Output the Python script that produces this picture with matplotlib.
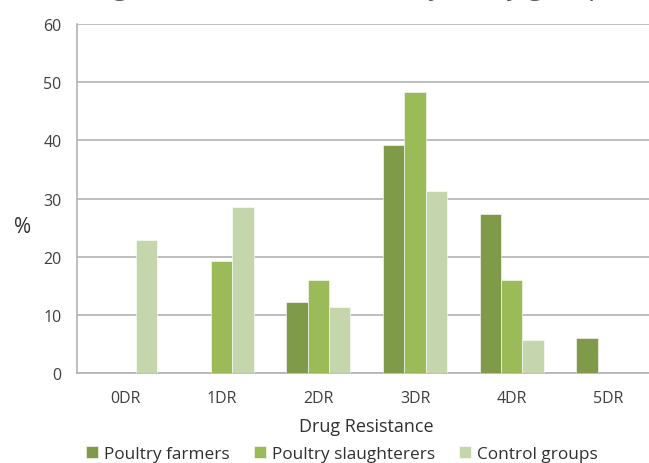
import numpy as np
import matplotlib
matplotlib.use("Agg")
import matplotlib.pyplot as plt

plt.rcParams['font.family'] = ['Open Sans', 'DejaVu Sans']

categories = ["0DR", "1DR", "2DR", "3DR", "4DR", "5DR"]
farmers = [0, 0, 12.2, 39.3, 27.3, 6.0]
slaughterers = [0, 19.3, 16.1, 48.3, 16.1, 0]
controls = [22.9, 28.6, 11.4, 31.4, 5.7, 0]
series_names = ["Poultry farmers", "Poultry slaughterers", "Control groups"]
colors = ["#7F9A48", "#9BBB59", "#C6D6AC"]

fig = plt.figure(figsize=(6.49, 4.64), dpi=100)
ax = fig.add_axes([0.1182, 0.1933, 0.8937, 0.7528])

x = np.arange(len(categories))
w = 0.22
for i, (vals, name, c) in enumerate(zip([farmers, slaughterers, controls], series_names, colors)):
    ax.bar(x + (i - 1) * w, vals, w, color=c, label=name, edgecolor="white", linewidth=0.4, zorder=3)

ax.set_xlim(-0.5, 5.5)
ax.set_ylim(0, 60)
ax.set_yticks(range(0, 61, 10))
ax.set_xticks(x)
ax.set_xticklabels(categories)
ax.grid(axis="y", color="#B3B3B3", linewidth=1.2, zorder=0)
ax.tick_params(axis="both", length=0, labelsize=11.5, labelcolor="#404040")
ax.tick_params(axis="x", pad=12)
ax.tick_params(axis="y", pad=11)
for s in ["top", "right"]:
    ax.spines[s].set_visible(False)
for s in ["left", "bottom"]:
    ax.spines[s].set_color("#B3B3B3")
    ax.spines[s].set_linewidth(1.2)

ax.set_xlabel("Drug Resistance", fontsize=13, color="#303030", labelpad=8)
ax.set_ylabel("%", fontsize=15, color="#303030", rotation=0, va="center", ha="center")
ax.yaxis.set_label_coords(-0.094, 0.42)

# title sits mostly above the canvas, only its descenders show
fig.text(0.515, 1.0 + 6 / 464, "Drug resistance of isolates by study group",
         fontsize=20, color="#595959", ha="center", va="baseline")

fig.legend(loc="center", bbox_to_anchor=(0.527, 0.02), ncol=3, frameon=False,
           fontsize=12.4, handlelength=0.7, handleheight=0.7, handletextpad=0.35,
           columnspacing=1.4, labelcolor="#303030")

fig.savefig("out.png", dpi=100)
